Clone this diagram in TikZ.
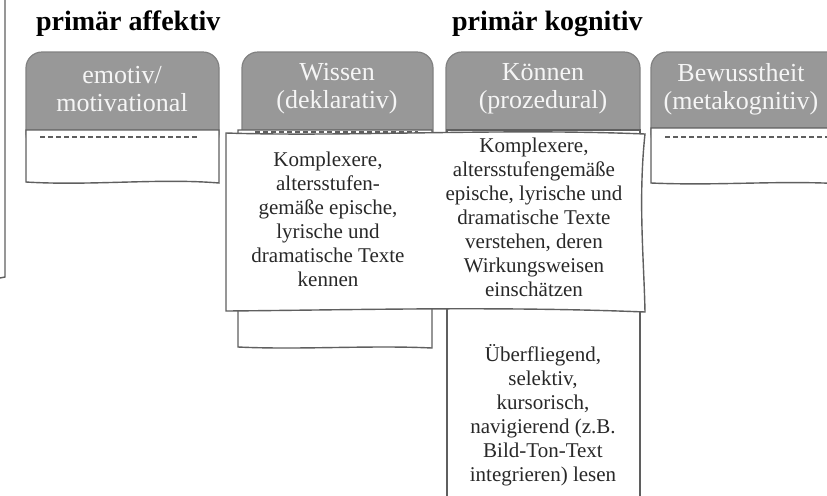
\documentclass[tikz,border=0pt]{standalone}
\usepackage{fontspec}
\setmainfont{Liberation Serif}
\definecolor{kopfgrau}{RGB}{152,152,152}
\definecolor{linie}{RGB}{95,95,95}
\definecolor{schrift}{RGB}{40,40,40}
\begin{document}
\begin{tikzpicture}[x=0.5pt, y=-0.5pt,
titel/.style={font=\fontsize{14}{16}\selectfont\bfseries, anchor=base west},
kopf/.style={fill=kopfgrau, draw=kopfgrau!85!black, line width=0.6pt, rounded corners=8pt},
kopftext/.style={text=white!92!gray, font=\fontsize{13}{14}\selectfont, align=center},
feld/.style={fill=white, draw=linie, line width=0.7pt},
strich/.style={draw=linie, dash pattern=on 2.5pt off 1.5pt, line width=0.6pt},
inhalt/.style={text=schrift, font=\fontsize{10.5}{12}\selectfont, align=center}]
\useasboundingbox (0,0) rectangle (827,495);

% linker Rand
\draw[linie, line width=0.7pt] (5,0) -- (5,277) -- (0,278);

\node[titel] (affektiv) at (29,30) {primär affektiv};
\node[titel] (kognitiv) at (445,30) {primär kognitiv};

% Kopfzeilen
\filldraw[kopf] (26,150) rectangle (219,52);
\filldraw[kopf] (242,150) rectangle (433,52);
\filldraw[kopf] (446,150) rectangle (640,52);
\filldraw[kopf] (651,150) rectangle (845,52);

% Felder
\filldraw[feld] (26,130) -- (219,130) -- (219,183)
  .. controls (160,178) and (90,186) .. (26,182) -- cycle;
\filldraw[feld] (238,130) -- (432,130) -- (432,348)
  .. controls (370,345) and (300,350) .. (238,347) -- cycle;
\filldraw[feld] (447,130) -- (640,130) -- (640,500) -- (447,500) -- cycle;
\filldraw[feld] (651,128) -- (845,128) -- (845,184)
  .. controls (780,180) and (720,186) .. (651,183) -- cycle;

\draw[strich] (40,137) -- (200,137);
\draw[strich] (255,132) -- (418,132);
\draw[strich] (665,137) -- (827,137);

% Ueberlagerung
\filldraw[feld] (226,133) .. controls (350,137) and (500,128) .. (645,134)
  .. controls (638,200) and (644,260) .. (645,312)
  .. controls (500,306) and (350,310) .. (226,311) -- cycle;

\node[kopftext] (emotiv) at (122,89) {emotiv/\\motivational};
\node[kopftext] (wissen) at (337,89) {Wissen\\(deklarativ)};
\node[kopftext] (koennen) at (543,89) {Können\\(prozedural)};
\node[kopftext] (bewusst) at (741,89) {Bewusstheit\\(metakognitiv)};

\node[inhalt] (kennen) at (328,219) {Komplexere,\\altersstufen-\\gemäße epische,\\lyrische und\\dramatische Texte\\kennen};
\node[inhalt] (verstehen) at (534,217) {Komplexere,\\altersstufengemäße\\epische, lyrische und\\dramatische Texte\\verstehen, deren\\Wirkungsweisen\\einschätzen};
\node[inhalt] (lesen) at (543,415) {Überfliegend,\\selektiv,\\kursorisch,\\navigierend (z.B.\\Bild-Ton-Text\\integrieren) lesen};
\end{tikzpicture}
\end{document}
